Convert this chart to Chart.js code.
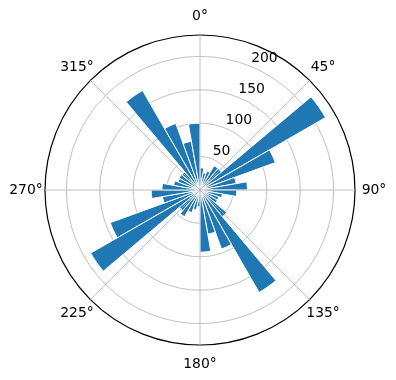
<!DOCTYPE html>
<html>
<head>
<meta charset="utf-8">
<script src="https://cdn.jsdelivr.net/npm/chart.js@4.4.1/dist/chart.umd.min.js"></script>
<style>
  html, body { margin: 0; padding: 0; background: #fff; }
  #wrap { width: 396px; height: 380px; }
</style>
</head>
<body>
<div id="wrap"><canvas id="chart"></canvas></div>
<script>
// bar centres, degrees clockwise from north (10 degree bins)
const directions = [5, 15, 25, 35, 45, 55, 65, 75, 85, 95, 105, 115,
  125, 135, 145, 155, 165, 175, 185, 195, 205, 215, 225, 235,
  245, 255, 265, 275, 285, 295, 305, 315, 325, 335, 345, 355]
const counts = [33, 26, 30, 42, 42, 217, 120, 55, 71, 55, 34, 30,
  30, 52, 177, 94, 67, 93, 25, 30, 36, 46, 40, 189,
  143, 57, 73, 57, 40, 35, 36, 35, 172, 106, 74, 100]
const thetaTicks = [0, 45, 90, 135, 180, 225, 270, 315]
const rTicks = [50, 100, 150, 200]
const rMax = 232

const FONT = "DejaVu Sans, sans-serif"

// angle grid lines and all axis text, drawn around the radial scale
const polarDecor = {
  id: "polarDecor",
  afterDatasetsDraw(chart) {
    const s = chart.scales.r
    const ctx = chart.ctx
    ctx.save()
    ctx.strokeStyle = "#b0b0b0"
    ctx.lineWidth = 0.8
    thetaTicks.forEach(deg => {
      const a = deg * Math.PI / 180
      ctx.beginPath()
      ctx.moveTo(s.xCenter, s.yCenter)
      ctx.lineTo(s.xCenter + s.drawingArea * Math.sin(a), s.yCenter - s.drawingArea * Math.cos(a))
      ctx.stroke()
    })
    ctx.restore()
  },
  afterDraw(chart) {
    const s = chart.scales.r
    const ctx = chart.ctx
    ctx.save()
    ctx.fillStyle = "#000"
    ctx.font = "13.9px " + FONT
    ctx.textAlign = "center"
    ctx.textBaseline = "middle"
    thetaTicks.forEach(deg => {
      const a = deg * Math.PI / 180
      const r = s.drawingArea + 19
      ctx.fillText(deg + "°", s.xCenter + r * Math.sin(a), s.yCenter - r * Math.cos(a))
    })
    ctx.textAlign = "left"
    ctx.textBaseline = "bottom"
    const a = 22.5 * Math.PI / 180
    rTicks.forEach(v => {
      const r = s.getDistanceFromCenterForValue(v)
      ctx.fillText(String(v), s.xCenter + r * Math.sin(a), s.yCenter - r * Math.cos(a) - 1)
    })
    ctx.restore()
  }
}

new Chart(document.getElementById("chart"), {
  type: "polarArea",
  data: {
    labels: directions.map(d => d + "°"),
    datasets: [{
      data: counts,
      backgroundColor: "#1f77b4",
      borderColor: "#ffffff",
      borderWidth: 1
    }]
  },
  options: {
    responsive: true,
    maintainAspectRatio: false,
    animation: false,
    layout: { padding: { top: 35, bottom: 35, left: 45, right: 41 } },
    plugins: {
      legend: { display: false },
      tooltip: { enabled: false }
    },
    scales: {
      r: {
        z: 1,
        min: 0,
        max: rMax,
        startAngle: 0,
        ticks: { stepSize: 50, display: false },
        angleLines: { display: false },
        pointLabels: { display: false },
        grid: {
          circular: true,
          lineWidth: c => (c.tick && c.tick.value >= rMax ? 1.2 : 0.8),
          color: c => (c.tick && c.tick.value >= rMax ? "#000000" : "#b0b0b0")
        }
      }
    }
  },
  plugins: [polarDecor]
})
</script>
</body>
</html>
